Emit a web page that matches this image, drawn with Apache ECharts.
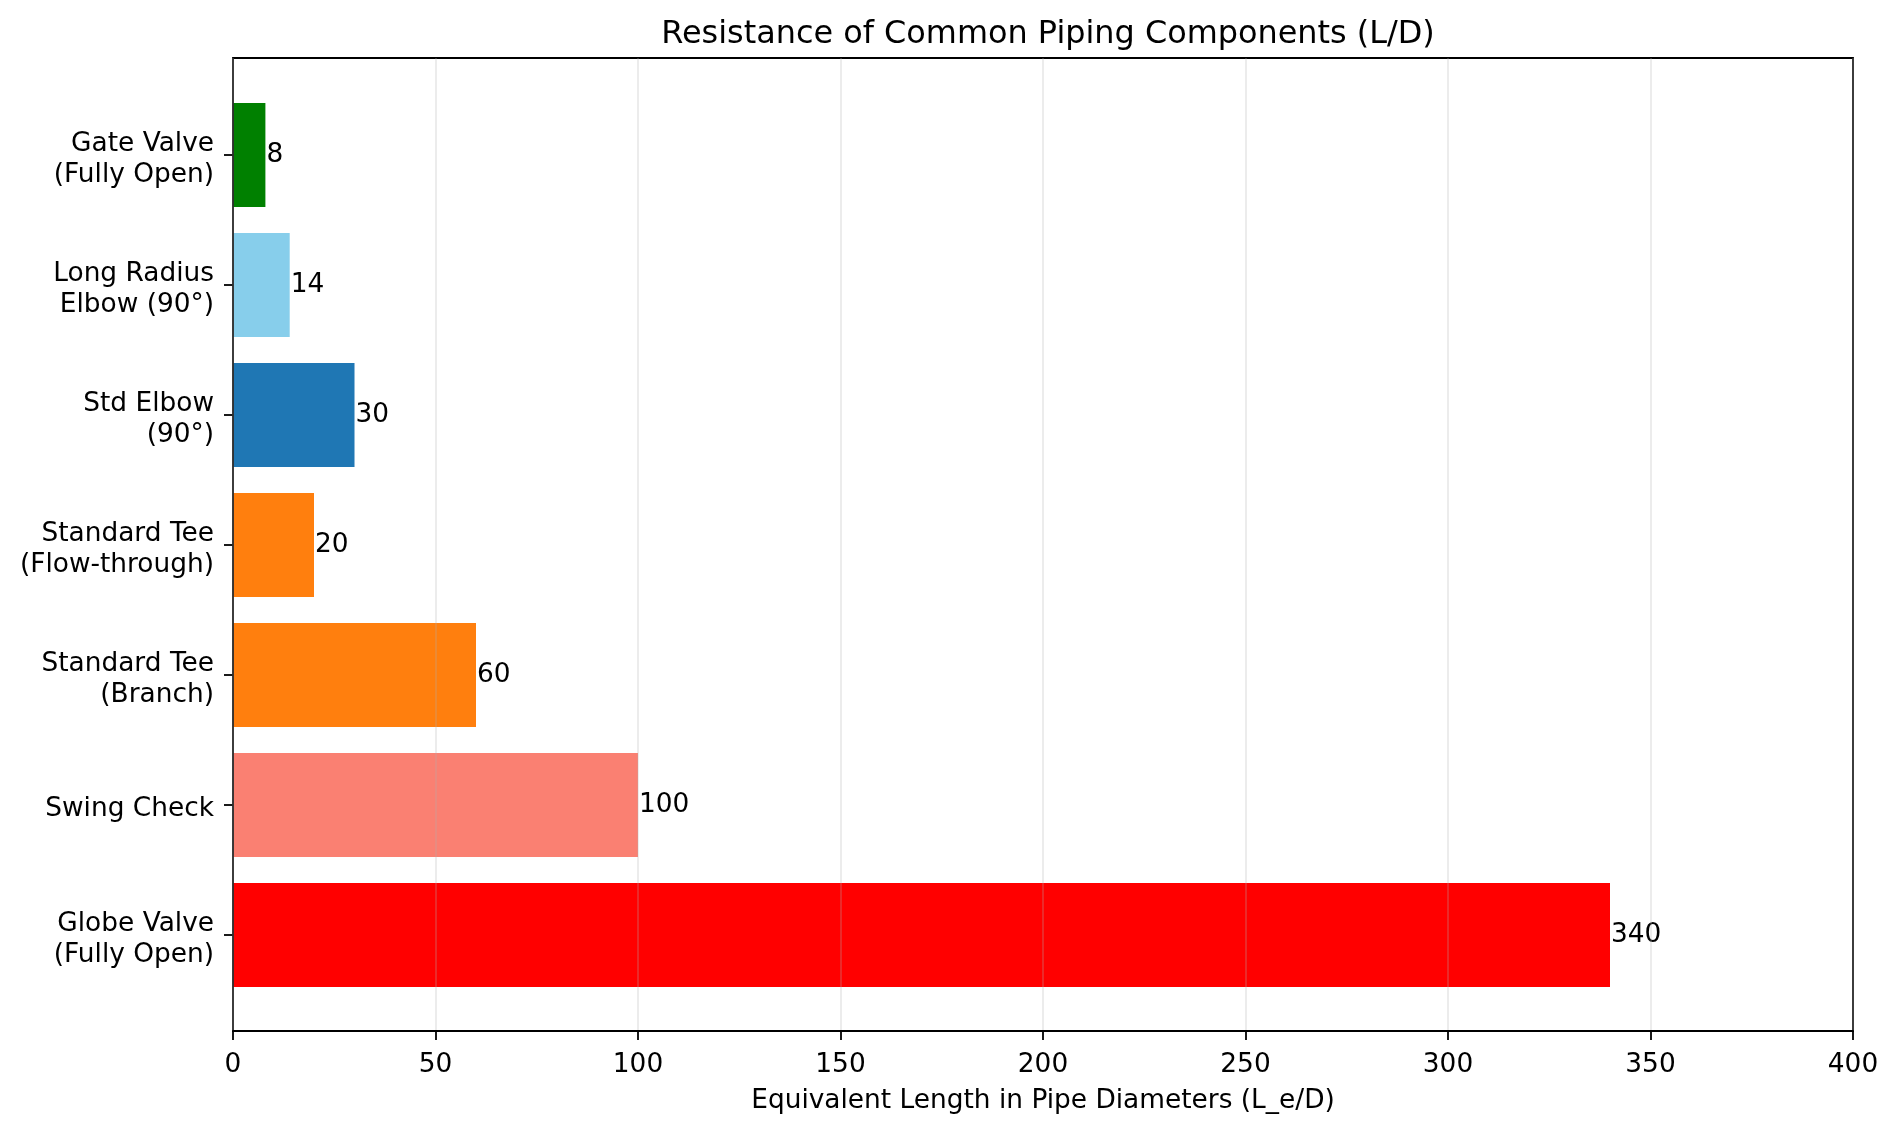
<!DOCTYPE html>
<html>
<head>
<meta charset="utf-8">
<script src="https://cdn.jsdelivr.net/npm/echarts@6/dist/echarts.min.js"></script>
<style>html,body{margin:0;padding:0;background:#fff}#c{width:1898px;height:1132px}</style>
</head>
<body>
<div id="c"></div>
<script>
const categories = ['Gate Valve\n(Fully Open)', 'Long Radius\nElbow (90°)', 'Std Elbow\n(90°)', 'Standard Tee\n(Flow-through)', 'Standard Tee\n(Branch)', 'Swing Check', 'Globe Valve\n(Fully Open)'];
const values = [8, 14, 30, 20, 60, 100, 340];
const colors = ['#008000', '#87CEEB', '#1f77b4', '#ff7f0e', '#ff7f0e', '#FA8072', '#FF0000'];
const xTicks = { min: 0, max: 400, interval: 50 };

const font = 'DejaVu Sans';
const fs = 26.4;
const chart = echarts.init(document.getElementById('c'), null, { renderer: 'canvas' });
chart.setOption({
  animation: false,
  backgroundColor: '#fff',
  title: {
    text: 'Resistance of Common Piping Components (L/D)',
    left: 1043, textAlign: 'center', top: 14,
    textStyle: { fontFamily: font, fontSize: 31.9, fontWeight: 'normal', color: '#000' }
  },
  grid: [
    { left: 233, right: 45, top: 58, bottom: 101, show: true, borderColor: '#000', borderWidth: 1.8, backgroundColor: 'transparent', z: 4 },
    { left: 233, right: 45, top: 90, bottom: 132 }
  ],
  xAxis: [
    {
      gridIndex: 0, type: 'value', min: xTicks.min, max: xTicks.max, interval: xTicks.interval, z: 5,
      axisLine: { show: true, lineStyle: { color: '#000', width: 1.8 } },
      axisTick: { show: true, length: 9, lineStyle: { color: '#000', width: 1.8 } },
      axisLabel: { margin: 21, fontFamily: font, fontSize: fs, color: '#000' },
      splitLine: { show: true, lineStyle: { color: 'rgba(176,176,176,0.3)', width: 1.6 } },
      name: 'Equivalent Length in Pipe Diameters (L_e/D)', nameLocation: 'middle', nameGap: 57,
      nameTextStyle: { fontFamily: font, fontSize: fs, color: '#000' }
    },
    { gridIndex: 1, type: 'value', min: xTicks.min, max: xTicks.max, show: false }
  ],
  yAxis: [
    { gridIndex: 0, type: 'value', show: false, min: 0, max: 1 },
    {
      gridIndex: 1, type: 'category', data: categories, inverse: true,
      axisLine: { show: false },
      axisTick: { show: true, alignWithLabel: true, length: 9, lineStyle: { color: '#000', width: 1.8 } },
      axisLabel: {
        margin: 19, fontFamily: font, fontSize: fs, color: '#000', lineHeight: 31, align: 'right',
        formatter: v => '{t|' + v.split('\n').join('}\n{t|') + '}',
        rich: { t: { fontFamily: font, fontSize: fs, color: '#000', lineHeight: 31, align: 'right', padding: [9, 0, 0, 0] } }
      },
      splitLine: { show: false }
    }
  ],
  series: [{
    type: 'bar', xAxisIndex: 1, yAxisIndex: 1, barCategoryGap: '20%',
    data: values.map((v, i) => ({ value: v, itemStyle: { color: colors[i] } })),
    label: { show: true, position: 'right', distance: 1, fontFamily: font, fontSize: fs, color: '#000' }
  }]
});
</script>
</body>
</html>
